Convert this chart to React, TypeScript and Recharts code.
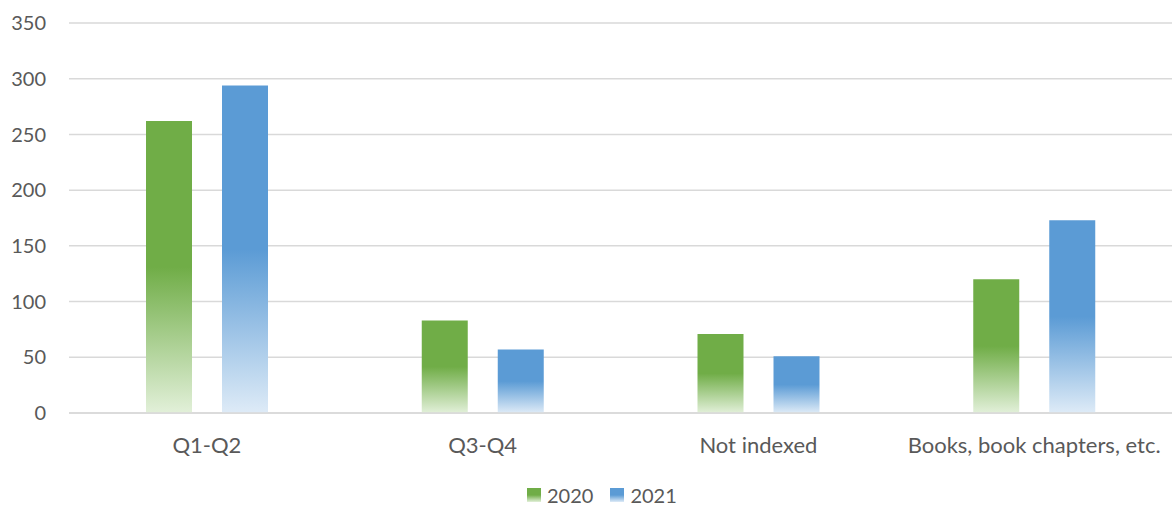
import React from "react";
import { BarChart, Bar, XAxis, YAxis, CartesianGrid } from "recharts";

const categories = ["Q1-Q2", "Q3-Q4", "Not indexed", "Books, book chapters, etc."];
const series2020 = [262, 83, 71, 120];
const series2021 = [294, 57, 51, 173];
const yTicks = [0, 50, 100, 150, 200, 250, 300, 350];
const seriesNames = ["2020", "2021"];

const data = categories.map((c, i) => ({
  name: c,
  s2020: series2020[i],
  s2021: series2021[i],
}));

const FONT = "Lato, 'Open Sans', sans-serif";
const TEXT = "#595959";

const LegendBlock = () => (
  <div
    style={{
      position: "absolute",
      left: 527,
      top: 483,
      height: 24,
      display: "flex",
      alignItems: "center",
      fontFamily: FONT,
      fontSize: 20,
      color: TEXT,
      whiteSpace: "nowrap",
    }}
  >
    <span
      style={{
        display: "inline-block",
        width: 14,
        height: 14,
        background: "linear-gradient(to bottom, #70AD47 0%, #70AD47 50%, #E2F0D9 100%)",
        marginRight: 6,
      }}
    />
    <span style={{ marginRight: 17 }}>{seriesNames[0]}</span>
    <span
      style={{
        display: "inline-block",
        width: 14,
        height: 14,
        background: "linear-gradient(to bottom, #5B9BD5 0%, #5B9BD5 50%, #DEEBF7 100%)",
        marginRight: 6,
      }}
    />
    <span>{seriesNames[1]}</span>
  </div>
);

export default function App() {
  return (
    <div style={{ position: "absolute", left: 0, top: 0, width: 1172, height: 509, background: "#fff" }}>
      <BarChart
        width={1172}
        height={509}
        data={data}
        margin={{ top: 23, right: 0, bottom: 0, left: 0 }}
        barGap={30}
        barSize={46}
      >
        <defs>
          <linearGradient id="g2020" x1="0" y1="0" x2="0" y2="1">
            <stop offset="0%" stopColor="#70AD47" />
            <stop offset="50%" stopColor="#70AD47" />
            <stop offset="100%" stopColor="#E2F0D9" />
          </linearGradient>
          <linearGradient id="g2021" x1="0" y1="0" x2="0" y2="1">
            <stop offset="0%" stopColor="#5B9BD5" />
            <stop offset="50%" stopColor="#5B9BD5" />
            <stop offset="100%" stopColor="#DEEBF7" />
          </linearGradient>
        </defs>
        <CartesianGrid vertical={false} stroke="#d9d9d9" strokeWidth={1.5} />
        <XAxis
          dataKey="name"
          height={96}
          axisLine={{ stroke: "#d9d9d9", strokeWidth: 1.5 }}
          tickLine={false}
          tickMargin={18}
          interval={0}
          tick={{ fill: TEXT, fontSize: 22, fontFamily: FONT }}
        />
        <YAxis
          width={69}
          domain={[0, 350]}
          ticks={yTicks}
          axisLine={false}
          tickLine={false}
          tickMargin={17}
          tick={{ fill: TEXT, fontSize: 20, fontFamily: FONT }}
        />
        <Bar dataKey="s2020" name={seriesNames[0]} fill="url(#g2020)" isAnimationActive={false} />
        <Bar dataKey="s2021" name={seriesNames[1]} fill="url(#g2021)" isAnimationActive={false} />
      </BarChart>
      <LegendBlock />
    </div>
  );
}
